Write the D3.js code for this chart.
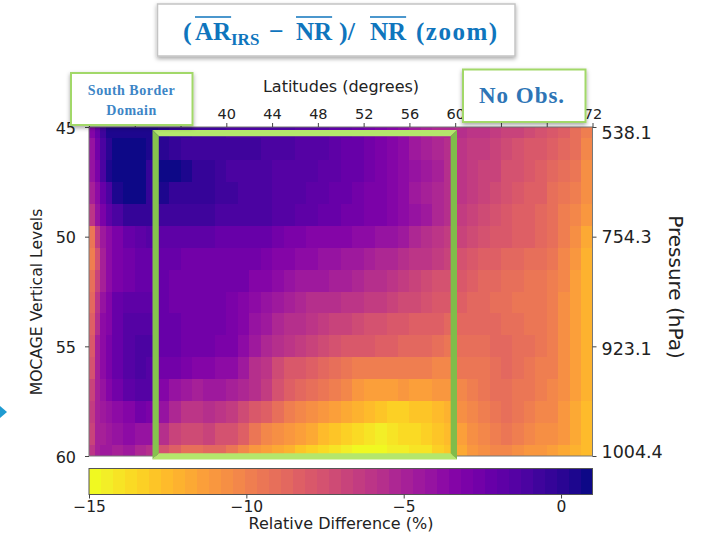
<!DOCTYPE html>
<html>
<head>
<meta charset="utf-8">
<script src="https://cdn.jsdelivr.net/npm/d3@7"></script>
<style>
html,body{margin:0;padding:0;background:#fff;}
svg{display:block;}
text{fill:#222;}
</style>
</head>
<body>
<svg id="chart" width="705" height="535"></svg>
<script>
// ---- data ----
const latEdges = [28,28.5,29,29.5,30,31,32,33,34,35,36,37,38,39,40,41,42,43,44,45,46,47,48,49,50,51,52,53,54,55,56,57,58,59,60,61,62,63,64,65,66,67,68,69,70,71,72];
const levels = [45,46,47,48,49,50,51,52,53,54,55,56,57,58,59,60];
const level45 = [-3.5,-2.2,-0.8,0.3, .6,.6,.5,.3,0,-.3,-.5,-.6,-.8,-.9, -1,-1,-1,-1,-1.1,-1.2,-1.3,-1.4,-1.5,-1.8, -2,-2.3,-2.6,-3,-3.4,-3.9,-4.4,-4.9,-5.2,-5.4, -5.7,-6,-6.2,-6.4,-6.7,-7,-7.3,-7.6,-8,-8.4,-9,-10];
const level46 = [-4,-2.6,-1,0, .7,.8,.7,.4,0,-.4,-.6,-.6,-.6,-.7, -.8,-.9,-.9,-1,-1.1,-1.2,-1.4,-1.4,-1.6,-1.8, -2.1,-2.3,-2.7,-3,-3.4,-3.9,-4.4,-4.8,-5.2,-5.5, -5.9,-6.3,-6.6,-6.9,-7.2,-7.5,-7.8,-8,-8.3,-8.7,-9.2,-10.2];
const level47 = [-4.2,-3,-1.2,.3, .8,.8,.7,-.3,.7,.7,.6,-.4,-.5,-.9, -1,-1,-1.1,-1.2,-1.3,-1.4,-1.5,-1.6,-1.8,-1.9, -2.1,-2.4,-2.7,-3,-3.4,-3.8,-4.3,-4.7,-5,-5.5, -6,-6.4,-6.7,-7,-7.4,-7.7,-8,-8.2,-8.6,-9,-9.6,-10.5];
const level48 = [-5,-3.6,-2.2,-1, .5,.8,.8,-.2,.5,-.3,-.4,-.5,-.5,-.8, -.9,-1,-1,-1.2,-1.3,-1.5,-1.6,-1.8,-2,-2.1, -2.3,-2.6,-2.9,-3.1,-3.5,-3.9,-4.4,-4.8,-5.2,-5.6, -6.1,-6.6,-7,-7.3,-7.6,-7.9,-8.2,-8.5,-9,-9.5,-10,-10.8];
const level49 = [-6,-4.2,-3,-2, -1.2,-.2,-.2,-.5,-.7,-.8,-.8,-.9,-.9,-1, -1,-1,-1.2,-1.2,-1.4,-1.5,-1.7,-1.9,-2.1,-2.2, -2.5,-2.7,-2.9,-3.1,-3.4,-3.6,-4.2,-4.7,-5.2,-5.6, -6.4,-6.9,-7.3,-7.6,-7.9,-8.2,-8.5,-8.8,-9.2,-9.7,-10.2,-11];
const level50 = [-9.5,-6.5,-4.4,-3.6, -3,-2.4,-1.8,-1.6,-2,-2,-2,-2,-2,-2.1, -2.1,-2.1,-2.3,-2.4,-2.6,-2.9,-3.1,-3.2,-3.3,-3.3, -3.5,-3.7,-3.9,-4.1,-4.3,-4.7,-5.1,-5.5,-5.9,-6.3, -7,-7.3,-7.6,-7.8,-8.1,-8.3,-8.5,-8.7,-9.2,-10,-10.6,-11.6];
const level51 = [-10,-7.5,-5,-3.8, -3,-2.7,-2.2,-2.1,-2.3,-2.4,-2.5,-2.5,-2.5,-2.5, -2.6,-2.6,-2.8,-3,-3.3,-3.5,-3.7,-3.9,-4.2,-4.3, -4.5,-4.7,-4.9,-5.1,-5.4,-5.6,-5.9,-6.2,-6.5,-6.9, -7.5,-7.9,-8.2,-8.4,-8.6,-8.8,-9,-9.1,-9.4,-10.2,-11,-12];
const level52 = [-9,-7,-5,-3.8, -3,-2.6,-2.3,-2.2,-2.4,-2.5,-2.6,-2.6,-2.6,-2.6, -2.7,-2.8,-3.2,-3.4,-3.8,-4.2,-4.5,-4.6,-4.6,-4.8, -5,-5.2,-5.5,-5.8,-6.1,-6.4,-6.8,-7.1,-7.4,-7.7, -8.1,-8.4,-8.6,-8.8,-9,-9.2,-9.3,-9.4,-9.7,-10.4,-11.2,-12.2];
const level53 = [-8.8,-6,-4,-3.2, -2.4,-2,-1.9,-2,-2.4,-2.5,-2.5,-2.5,-2.6,-2.7, -2.9,-3.2,-3.7,-4,-4.6,-5,-5.4,-5.5,-5.5,-5.7, -5.9,-6.1,-6.3,-6.6,-6.9,-7.1,-7.3,-7.5,-7.8,-8.1, -8.5,-8.7,-8.8,-9,-9.1,-9.3,-9.4,-9.6,-10,-10.6,-11.2,-12.2];
const level54 = [-8.5,-5.6,-3.8,-3.2, -2.3,-1.6,-1.3,-1.6,-2.1,-2.3,-2.5,-2.6,-2.6,-2.8, -3,-3.4,-4.2,-4.6,-5.2,-5.6,-5.8,-6,-6.4,-6.8, -7,-7.3,-7.5,-7.7,-7.8,-8,-8.2,-8.4,-8.5,-8.7, -8.8,-8.9,-8.9,-8.9,-9,-9.2,-9.4,-9.6,-10,-10.6,-11.4,-12.2];
const level55 = [-8,-5,-3.6,-3, -2.3,-1.6,-1,-1.2,-2.2,-2.4,-2.6,-2.8,-2.8,-2.9, -3.1,-3.6,-4.6,-5.2,-5.8,-6.2,-6.6,-6.9,-7.2,-7.5, -7.8,-8,-8.1,-8.3,-8.4,-8.6,-8.7,-8.9,-9.1,-9.3, -9,-9,-9.1,-8.9,-8.8,-9,-9.2,-9.5,-10,-10.6,-11.4,-12.2];
const level56 = [-7.5,-5,-3.8,-3, -2.3,-1.4,-1,-1.3,-2.5,-2.8,-3,-3.2,-3.4,-3.6, -3.9,-4.4,-5.5,-6.2,-7.2,-7.8,-8.1,-8.3,-8.6,-9, -9.4,-9.8,-10,-10,-10,-10,-10,-10,-10.1,-10.2, -9.6,-9.4,-9.4,-9,-8.8,-9.1,-9.4,-9.7,-10,-10.8,-11.4,-12.2];
const level57 = [-7,-5,-4,-3.4, -2.6,-2,-1.6,-1.6,-3.4,-4.2,-4.7,-4.9,-4.7,-4.5, -4.8,-5.2,-5.8,-6.6,-7.6,-8.2,-8.6,-9,-9.4,-10, -10.4,-10.9,-11.2,-11.3,-11.2,-11.1,-11.2,-11.2,-11,-11, -10.2,-9.9,-9.5,-9.2,-9,-9.3,-9.6,-9.9,-10.2,-10.8,-11.4,-12.2];
const level58 = [-6.5,-5,-4.5,-4, -3.6,-3.2,-2.8,-3,-4.2,-5.2,-6,-5.9,-5.6,-6, -6.6,-7.2,-7.8,-8.4,-9.2,-9.8,-10.2,-10.6,-11,-11.4, -11.8,-12.2,-12.6,-13,-13.2,-13.2,-13,-13,-12.6,-12.2, -10.6,-10.2,-9.8,-9.5,-9.2,-9.5,-9.8,-10.1,-10.4,-11,-11.6,-12.4];
const level59 = [-7,-5,-4.8,-4.5, -4.2,-3.8,-4,-4.2,-5.6,-6.8,-7.2,-7.2,-7,-7.4, -7.7,-8.4,-9.4,-10.2,-10.7,-11,-11.4,-11.8,-12.4,-13, -13.4,-13.8,-14.2,-14.4,-14,-13.8,-13.6,-13.4,-12.9,-12.4, -11.2,-10.6,-10.2,-9.9,-9.6,-10,-10.2,-10.5,-10.6,-11,-11.6,-12.4];
const level60 = [-6,-4.8,-4.5,-4.6, -4.8,-4.5,-5.2,-5.8,-7.4,-8.4,-9,-9,-8.6,-8.8, -9.6,-10.4,-10.9,-11.4,-11.8,-12.3,-12.8,-13.3,-13.8,-14.2, -14.6,-14.7,-14.8,-14.8,-14.6,-14.4,-14.2,-14,-13.4,-12.8, -11.6,-11,-10.6,-10.4,-10.4,-10.7,-10.9,-11.1,-11.2,-11.6,-12,-12.4];
const rows = [level45,level46,level47,level48,level49,level50,level51,level52,level53,level54,level55,level56,level57,level58,level59,level60];
const latTicks = [28,32,36,40,44,48,52,56,60,64,68,72];
const latLabels = [40,44,48,52,56,60,72];
const levelTicks = [45,50,55,60];
const pressureLabels = ["538.1","754.3","923.1","1004.4"];
const colorTicks = [-15,-10,-5,0];
const colorDomain = [-15,1];
const colorLevels = 42;

const dejavu = '"DejaVu Sans",sans-serif';
const serif = '"Liberation Serif",serif';

// ---- scales ----
const svg = d3.select("#chart");
const x = d3.scaleLinear().domain([28,72]).range([89,592.5]);
const y = d3.scaleLinear().domain([45,60]).range([127,456]);
const cx = d3.scaleLinear().domain(colorDomain).range([89,592.5]);
const bandColors = d3.range(colorLevels).map(i => d3.interpolatePlasma(1 - i/(colorLevels-1)));
const color = d3.scaleQuantize().domain(colorDomain).range(bandColors);

const defs = svg.append("defs");
const shadow = defs.append("filter").attr("id","shadow").attr("x","-10%").attr("y","-15%").attr("width","120%").attr("height","140%");
shadow.append("feDropShadow").attr("dx",0).attr("dy",2).attr("stdDeviation",2).attr("flood-color","#000").attr("flood-opacity",0.35);

// ---- heatmap ----
const clip = defs.append("clipPath").attr("id","plotClip");
clip.append("rect").attr("x",89).attr("y",127).attr("width",503.5).attr("height",329);
const cells = rows.flatMap((row,r) => row.map((v,c) => ({
  v, x0: latEdges[c], x1: latEdges[c+1],
  y0: Math.max(45, levels[r]-0.5), y1: Math.min(60, levels[r]+0.5)
})));
svg.append("g").attr("clip-path","url(#plotClip)").append("g").style("filter","blur(0.5px)")
  .selectAll("rect").data(cells).join("rect")
  .attr("x", d => x(d.x0)).attr("y", d => y(d.y0))
  .attr("width", d => x(d.x1)-x(d.x0)+0.5).attr("height", d => y(d.y1)-y(d.y0)+0.5)
  .attr("fill", d => color(d.v)).attr("shape-rendering","crispEdges");
svg.append("rect").attr("x",89).attr("y",127).attr("width",503.5).attr("height",329)
  .attr("fill","none").attr("stroke","#777").attr("stroke-width",1);

function styleAxis(g, size){
  g.select(".domain").remove();
  g.selectAll("line").attr("stroke","#444");
  g.selectAll("text").attr("font-size",size).style("fill","#222").style("font-family",dejavu);
}
function label(sel, size){
  return sel.attr("text-anchor","middle").attr("font-size",size).style("font-family",dejavu);
}
// ---- axes ----
svg.append("g").attr("transform","translate(0,127)")
  .call(d3.axisTop(x).tickValues(latTicks).tickFormat(d => latLabels.includes(d) ? d : "").tickSize(4).tickPadding(4))
  .call(g => styleAxis(g,14.5));
svg.append("g").attr("transform","translate(89,0)")
  .call(d3.axisLeft(y).tickValues(levelTicks).tickFormat(d3.format("d")).tickSize(4).tickPadding(9))
  .call(g => styleAxis(g,16))
  .call(g => g.selectAll("text").attr("transform","translate(0,1)"));
const labelShift = [6,0,3,-4];
svg.append("g").attr("transform","translate(592.5,0)")
  .call(d3.axisRight(y).tickValues(levelTicks).tickFormat((d,i)=>pressureLabels[i]).tickSize(4).tickPadding(5))
  .call(g => styleAxis(g,17.5))
  .call(g => g.selectAll("text").attr("transform",(d,i)=>`translate(0,${labelShift[i]})`));

label(svg.append("text").attr("x",341).attr("y",92),16).text("Latitudes (degrees)");
label(svg.append("text").attr("transform","translate(42,302) rotate(-90)"),15.6).text("MOCAGE Vertical Levels");
label(svg.append("text").attr("transform","translate(669,287) rotate(90)"),20).text("Pressure (hPa)");

// ---- colorbar ----
const barTop = 468.5, barH = 26;
const step = (colorDomain[1]-colorDomain[0])/colorLevels;
svg.append("g").style("filter","blur(0.4px)").selectAll("rect").data(bandColors).join("rect")
  .attr("x",(d,i)=>cx(colorDomain[0]+i*step)).attr("y",barTop)
  .attr("width",cx(colorDomain[0]+step)-cx(colorDomain[0])+0.5).attr("height",barH)
  .attr("fill",d=>d).attr("shape-rendering","crispEdges");
svg.append("rect").attr("x",89).attr("y",barTop).attr("width",503.5).attr("height",barH)
  .attr("fill","none").attr("stroke","#555").attr("stroke-width",1);
svg.append("g").attr("transform",`translate(0,${barTop+barH})`)
  .call(d3.axisBottom(cx).tickValues(colorTicks).tickFormat(d=>d<0?"\u2212"+(-d):d).tickSize(4).tickPadding(2))
  .call(g => styleAxis(g,15.5));
label(svg.append("text").attr("x",341).attr("y",529),16).text("Relative Difference (%)");

// ---- green frame ----
const f = {l:152.5,r:457,t:130,b:459.5,w:6.3};
const frame = [
  {pts:[[f.l,f.t],[f.r,f.t],[f.r-f.w,f.t+f.w],[f.l+f.w,f.t+f.w]],fill:"#b4e66c"},
  {pts:[[f.l,f.b],[f.r,f.b],[f.r-f.w,f.b-f.w],[f.l+f.w,f.b-f.w]],fill:"#b4e66c"},
  {pts:[[f.l,f.t],[f.l+f.w,f.t+f.w],[f.l+f.w,f.b-f.w],[f.l,f.b]],fill:"#86c34e"},
  {pts:[[f.r,f.t],[f.r-f.w,f.t+f.w],[f.r-f.w,f.b-f.w],[f.r,f.b]],fill:"#80bc4a"}
];
svg.append("g").selectAll("path").data(frame).join("path")
  .attr("d",d=>d3.line()(d.pts)+"Z").attr("fill",d=>d.fill);

// ---- annotation boxes ----
svg.append("rect").attr("x",71).attr("y",73).attr("width",121.5).attr("height",52)
  .attr("fill","#fff").attr("stroke","#a2d869").attr("stroke-width",2).attr("filter","url(#shadow)");
function serifText(xp, yp, size, col, txt, spacing){
  svg.append("text").attr("x",xp).attr("y",yp).attr("text-anchor","middle").attr("font-weight","bold")
    .attr("font-size",size).attr("letter-spacing",spacing).style("font-family",serif).style("fill",col).text(txt);
}
serifText(131.5,95,14,"#3d85c6","South Border",0.5);
serifText(131.5,115,14,"#3d85c6","Domain",0.5);
svg.append("rect").attr("x",463).attr("y",69.5).attr("width",122.5).attr("height",52.5)
  .attr("fill","#fff").attr("stroke","#a2d869").attr("stroke-width",2).attr("filter","url(#shadow)");
serifText(522,103,23,"#2e75b6","No Obs.",1);

// ---- title box ----
svg.append("rect").attr("x",157.5).attr("y",4).attr("width",357.5).attr("height",52)
  .attr("fill","#fff").attr("stroke","#c4c4c4").attr("stroke-width",1.5).attr("filter","url(#shadow)");
const titleParts = [
  {t:"(",at:183,s:26},{t:"AR",at:195,s:25,over:true},{t:"IRS",at:231,s:17,sub:true},{t:"\u2212",at:269,s:26},
  {t:"NR",at:296,s:25,over:true},{t:")/",at:339,s:26},{t:"NR",at:370,s:25,over:true},{t:"(zoom)",at:416,s:25,sp:1.5}
];
const title = svg.append("g");
titleParts.forEach(p => {
  const el = title.append("text").attr("x",p.at).attr("y",p.sub?44.5:39.5).attr("font-weight","bold")
    .attr("font-size",p.s).attr("letter-spacing",p.sp||0).style("font-family",serif).style("fill","#0f75bd").text(p.t);
  const w = el.node().getComputedTextLength();
  if(p.over) title.append("line").attr("x1",p.at).attr("x2",p.at+w).attr("y1",17).attr("y2",17).attr("stroke","#0f75bd").attr("stroke-width",1.6);
});

// ---- small arrow at the left edge ----
svg.append("path").attr("d","M0,406L7,412L0,418Z").attr("fill","#1f9bd1");
</script>
</body>
</html>
